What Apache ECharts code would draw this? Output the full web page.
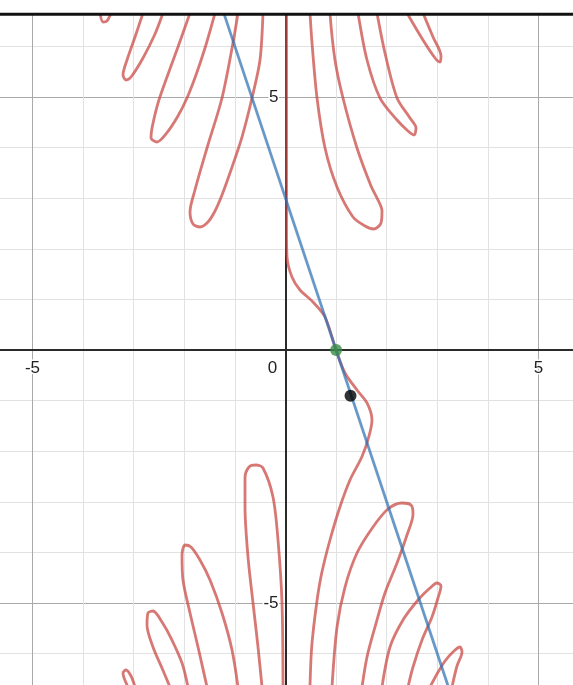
<!DOCTYPE html>
<html><head><meta charset="utf-8">
<script src="https://cdn.jsdelivr.net/npm/echarts@6/dist/echarts.min.js"></script>
<style>html,body{margin:0;padding:0;background:#fff}#c{width:573px;height:685px}</style>
</head><body><div id="c"></div>
<script>
// ---- tick labels ----
const xTicks = [-5, 0, 5];
const yTicks = [-5, 5];

// ---- red curve pieces ([x, y]) ----
const topLeft4 = [[-3.666,6.66],[-3.607,6.482],[-3.528,6.502],[-3.449,6.66]];
const topLeft3 = [[-2.816,6.66],[-2.974,6.186],[-3.132,5.731],[-3.211,5.435],[-3.152,5.336],[-3.053,5.395],[-2.816,5.771],[-2.579,6.245],[-2.421,6.66]];
const topLeft2 = [[-1.887,6.66],[-2.125,5.988],[-2.342,5.395],[-2.520,4.881],[-2.638,4.387],[-2.658,4.190],[-2.540,4.111],[-2.362,4.269],[-2.125,4.625],[-1.947,4.980],[-1.769,5.435],[-1.591,5.968],[-1.393,6.66]];
const topLeft1 = [[-0.939,6.66],[-1.038,6.067],[-1.255,4.980],[-1.551,3.992],[-1.789,3.162],[-1.887,2.727],[-1.828,2.490],[-1.690,2.431],[-1.532,2.530],[-1.393,2.747],[-1.255,3.063],[-1.077,3.557],[-0.860,4.209],[-0.662,4.980],[-0.504,5.731],[-0.445,6.66]];
const topRight1 = [[0.484,6.66],[0.524,6.067],[0.623,4.980],[0.781,3.992],[1.018,3.221],[1.334,2.628],[1.571,2.451],[1.749,2.391],[1.887,2.510],[1.907,2.747],[1.808,3.004],[1.690,3.241],[1.413,3.992],[1.136,4.980],[0.978,5.731],[0.879,6.66]];
const topRight2 = [[1.433,6.66],[1.611,5.731],[1.868,4.980],[2.204,4.545],[2.421,4.328],[2.540,4.249],[2.579,4.387],[2.460,4.585],[2.204,4.980],[1.966,5.870],[1.808,6.66]];
const topRight3 = [[2.401,6.66],[2.717,6.126],[2.955,5.771],[3.053,5.692],[3.073,5.810],[2.915,6.186],[2.717,6.66]];
const centralStrand = [[0.02,6.66],[0.02,4.5],[0.02,2.372],[0.03,1.838],[0.128,1.443],[0.287,1.186],[0.543,0.949],[0.781,0.652],[0.998,0.0],[1.176,-0.455],[1.413,-0.791],[1.611,-1.047],[1.709,-1.383],[1.650,-1.700],[1.512,-2.105],[1.275,-2.569],[1.077,-3.097],[0.879,-3.755],[0.715,-4.413],[0.617,-4.994],[0.518,-5.864],[0.484,-6.66]];
const bottomRight1 = [[0.919,-6.66],[1.018,-5.474],[1.176,-4.684],[1.413,-4.012],[1.729,-3.498],[2.026,-3.142],[2.302,-3.024],[2.480,-3.063],[2.520,-3.241],[2.401,-3.656],[2.204,-4.209],[1.966,-4.802],[1.769,-5.474],[1.611,-6.067],[1.512,-6.66]];
const bottomRight2 = [[1.907,-6.66],[2.065,-5.870],[2.322,-5.336],[2.619,-4.941],[2.856,-4.704],[2.994,-4.605],[3.073,-4.664],[3.014,-4.901],[2.895,-5.277],[2.698,-5.731],[2.520,-6.265],[2.421,-6.66]];
const bottomRight3 = [[2.856,-6.66],[2.994,-6.403],[3.152,-6.146],[3.330,-5.949],[3.449,-5.870],[3.488,-5.968],[3.389,-6.245],[3.290,-6.66]];
const bottomLeft1 = [[-0.464,-6.66],[-0.543,-5.870],[-0.642,-5.0],[-0.741,-4.091],[-0.800,-3.103],[-0.800,-2.530],[-0.721,-2.312],[-0.583,-2.273],[-0.445,-2.332],[-0.247,-2.905],[-0.148,-3.755],[-0.069,-5.0],[-0.049,-6.66]];
const bottomLeft2 = [[-1.551,-6.66],[-1.729,-5.870],[-1.887,-5.198],[-2.026,-4.545],[-2.045,-4.051],[-1.986,-3.854],[-1.868,-3.893],[-1.690,-4.150],[-1.492,-4.545],[-1.255,-5.198],[-1.057,-5.929],[-0.939,-6.66]];
const bottomLeft3 = [[-2.283,-6.66],[-2.441,-6.285],[-2.619,-5.870],[-2.737,-5.435],[-2.717,-5.198],[-2.619,-5.158],[-2.441,-5.375],[-2.263,-5.692],[-2.045,-6.186],[-1.927,-6.66]];
const bottomLeft4 = [[-3.113,-6.66],[-3.211,-6.383],[-3.152,-6.324],[-3.053,-6.443],[-2.974,-6.66]];

// ---- blue line and points ----
const blueLine = [[-1.3, 6.9], [3.3, -6.9]];
const greenPoint = [1.0, 0.0];
const blackPoint = [1.285, -0.903];

const redCurves = [topLeft4, topLeft3, topLeft2, topLeft1, topRight1, topRight2, topRight3,
  centralStrand, bottomRight1, bottomRight2, bottomRight3, bottomLeft1, bottomLeft2, bottomLeft3, bottomLeft4];

const RED = 'rgba(199,68,64,0.72)';
const BLUE = 'rgba(45,112,179,0.72)';
const FONT = 'Arial, "Liberation Sans", sans-serif';
const labelBase = { color: '#222', fontFamily: FONT, fontSize: 17, textBorderColor: '#fff', textBorderWidth: 3 };

const series = redCurves.map(d => ({
  type: 'line', data: d, xAxisIndex: 1, yAxisIndex: 1, showSymbol: false, smooth: 0.3,
  lineStyle: { color: RED, width: 2.8 }, z: 3, silent: true
}));
series.push({ type: 'line', data: blueLine, xAxisIndex: 1, yAxisIndex: 1, showSymbol: false,
  lineStyle: { color: BLUE, width: 2.8 }, z: 4, silent: true });
series.push({ type: 'scatter', data: [greenPoint], xAxisIndex: 1, yAxisIndex: 1, symbolSize: 12,
  itemStyle: { color: '#388c46' }, z: 5, silent: true });
series.push({ type: 'scatter', data: [blackPoint], xAxisIndex: 1, yAxisIndex: 1, symbolSize: 12,
  itemStyle: { color: '#000' }, z: 5, silent: true });

const gridAxis = (grid, pos, step, color) => ({
  gridIndex: grid, type: 'value', min: -10, max: 10, interval: step, position: pos,
  axisLine: { show: false, onZero: false }, axisTick: { show: false }, axisLabel: { show: false },
  splitLine: { show: true, lineStyle: { color: color, width: 1 } }
});
const hiddenAxis = (grid) => ({ gridIndex: grid, type: 'value', min: -10, max: 10, show: false,
  axisLine: { onZero: false } });

const num = v => Number(v);
const G = { containLabel: false, outerBoundsMode: 'none' };

const chart = echarts.init(document.getElementById('c'), null, { renderer: 'canvas', width: 573, height: 685 });
chart.setOption({
  animation: false,
  backgroundColor: '#fff',
  grid: [
    Object.assign({ left: -220.5, right: -218.5, top: -156, bottom: -171 }, G),
    Object.assign({ left: -220.5, right: -218.5, top: 300, bottom: 335 }, G),
    Object.assign({ left: 285.5, right: 0, top: -156, bottom: -171 }, G)
  ],
  xAxis: [
    gridAxis(0, 'top', 1, '#e2e2e2'),
    gridAxis(0, 'bottom', 5, '#a9a9a9'),
    {
      gridIndex: 1, type: 'value', min: -10, max: 10, interval: 5, position: 'bottom', z: 1,
      axisLine: { show: true, onZero: false, lineStyle: { color: '#2a2a2a', width: 2 } },
      axisTick: { show: false }, splitLine: { show: false },
      axisLabel: Object.assign({}, labelBase, {
        margin: 10,
        formatter: v => num(v) === 0 ? '{o|0}' : (xTicks.includes(num(v)) ? String(num(v)) : ''),
        rich: { o: Object.assign({}, labelBase, { padding: [0, 26, 0, 0] }) }
      })
    },
    hiddenAxis(2)
  ],
  yAxis: [
    gridAxis(0, 'right', 1, '#e2e2e2'),
    gridAxis(0, 'left', 5, '#a9a9a9'),
    hiddenAxis(1),
    {
      gridIndex: 2, type: 'value', min: -10, max: 10, interval: 5, position: 'left', z: 1,
      axisLine: { show: true, onZero: false, lineStyle: { color: '#2a2a2a', width: 2 } },
      axisTick: { show: false }, splitLine: { show: false },
      axisLabel: Object.assign({}, labelBase, {
        margin: 7,
        formatter: v => (yTicks.includes(num(v)) ? String(num(v)) : '')
      })
    }
  ],
  graphic: [
    { type: 'rect', shape: { x: 0, y: 0, width: 573, height: 13 }, style: { fill: '#fff' }, z: 100 },
    { type: 'line', shape: { x1: 0, y1: 14.3, x2: 573, y2: 14.3 }, style: { stroke: '#111', lineWidth: 3 }, z: 101 }
  ],
  series: series
});
</script></body></html>
